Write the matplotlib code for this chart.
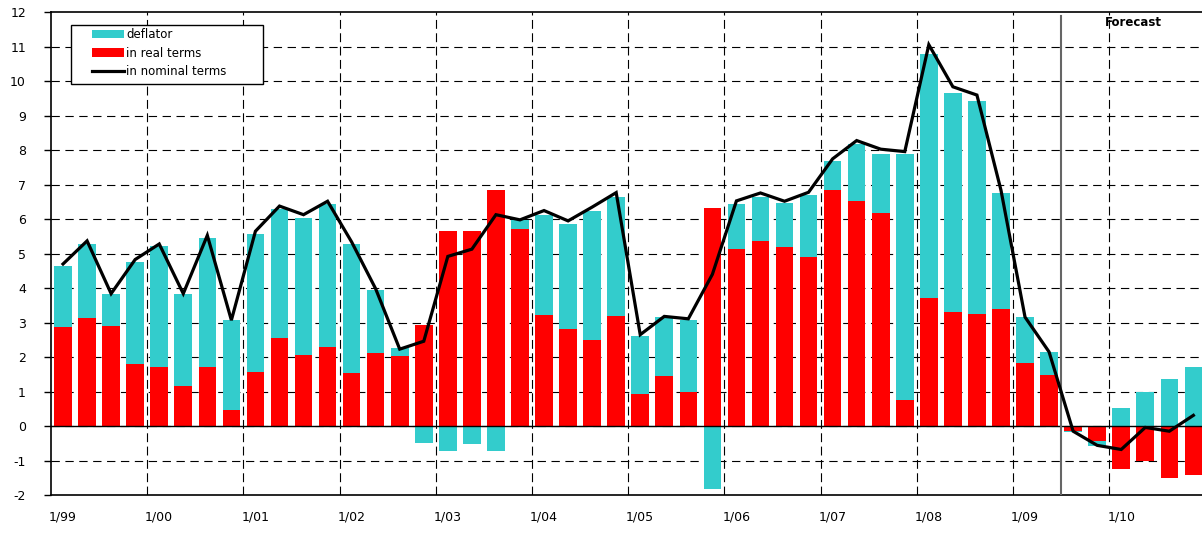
import numpy as np
import matplotlib.pyplot as plt
from matplotlib.patches import Rectangle

# quarterly data, 1999Q1 .. 2010Q4
real = [2.87, 3.12, 2.90, 1.80, 1.71, 1.15, 1.71, 0.47, 1.58, 2.56, 2.05, 2.30,
        1.55, 2.11, 2.02, 2.92, 5.66, 5.66, 6.84, 5.71, 3.23, 2.81, 2.50, 3.18,
        0.93, 1.46, 0.99, 6.32, 5.13, 5.36, 5.20, 4.89, 6.84, 6.53, 6.19, 0.75,
        3.71, 3.32, 3.26, 3.39, 1.83, 1.49, -0.13, -0.44, -1.24, -1.02, -1.51, -1.43]
deflator = [1.77, 2.17, 0.93, 2.96, 3.52, 2.68, 3.74, 2.60, 3.99, 3.73, 3.99, 4.14,
            3.74, 1.83, 0.23, -0.49, -0.71, -0.52, -0.71, 0.27, 2.90, 3.04, 3.75, 3.45,
            1.68, 1.69, 2.10, -1.82, 1.31, 1.28, 1.28, 1.80, 0.84, 1.64, 1.71, 7.15,
            7.09, 6.33, 6.16, 3.36, 1.32, 0.65, -0.04, -0.14, 0.53, 0.99, 1.35, 1.71]
nominal = [4.70, 5.37, 3.84, 4.83, 5.28, 3.84, 5.53, 3.07, 5.65, 6.38, 6.13, 6.52,
           5.34, 3.98, 2.23, 2.46, 4.92, 5.13, 6.13, 5.98, 6.25, 5.95, 6.35, 6.77,
           2.65, 3.18, 3.11, 4.40, 6.53, 6.76, 6.52, 6.78, 7.75, 8.28, 8.03, 7.96,
           11.06, 9.84, 9.60, 6.84, 3.16, 2.15, -0.15, -0.56, -0.68, -0.04, -0.15, 0.31]
year_labels = ['1/99', '1/00', '1/01', '1/02', '1/03', '1/04',
               '1/05', '1/06', '1/07', '1/08', '1/09', '1/10']
forecast_start = 42  # first forecast quarter (2009Q3)

plt.rcParams['font.family'] = ['DejaVu Sans']
plt.rcParams['axes.unicode_minus'] = False

real = np.array(real)
deflator = np.array(deflator)
x = np.arange(len(real))
# stack positives up, negatives down (like Excel)
defl_bottom = np.where(np.sign(deflator) == np.sign(real), real, 0)

fig = plt.figure(figsize=(12.02, 5.39), dpi=100)
ax = fig.add_axes([51 / 1202, 1 - 495 / 539, 1151 / 1202, (495 - 12.3) / 539])

# grid
for yv in range(-1, 12):
    ax.axhline(yv, color='black', lw=0.8, ls=(0, (7.5, 5)), zorder=0)
for k in range(1, len(year_labels)):
    ax.axvline(4 * k - 0.5, color='black', lw=0.8, ls=(0, (8, 4)), zorder=0)

cyan = '#33CCCC'
red = '#FF0000'
ax.bar(x, deflator, bottom=defl_bottom, width=0.73, color=cyan, zorder=2,
       label='deflator')
ax.bar(x, real, width=0.73, color=red, zorder=2, label='in real terms')
ax.plot(x, nominal, color='black', lw=2.3, zorder=4, label='in nominal terms',
        solid_joinstyle='miter')
ax.axhline(0, color='black', lw=1, zorder=3)

ax.axvline(forecast_start - 0.5, ymax=0.993, color='#666666', lw=1.5, zorder=3)
ax.text(44.5, 11.69, 'Forecast', fontsize=8.5, fontweight='bold',
        ha='center', va='center')

ax.set_xlim(-0.5, -0.5 + 1151 / 24.05)
ax.set_ylim(-2, 12)
ax.set_yticks(range(-2, 13))
ax.set_xticks(np.arange(len(year_labels)) * 4)
ax.set_xticklabels(year_labels)
ax.tick_params(axis='y', length=5, width=1, pad=13, labelsize=9)
ax.tick_params(axis='x', length=0, pad=11, labelsize=9)
ax.spines['right'].set_visible(False)
for s in ['left', 'top', 'bottom']:
    ax.spines[s].set_linewidth(1.2)

# legend with a custom white frame
ax.add_patch(Rectangle((0.0175, 0.851), 0.1665, 0.123, transform=ax.transAxes,
                       facecolor='white', edgecolor='black', lw=1, zorder=5))
h, l = ax.get_legend_handles_labels()
order = [l.index('deflator'), l.index('in real terms'), l.index('in nominal terms')]
leg = ax.legend([h[i] for i in order], [l[i] for i in order], loc='upper left',
                bbox_to_anchor=(0.0305, 0.979), frameon=False, fontsize=8.5,
                handlelength=2.7, handleheight=0.7, handletextpad=0.2,
                labelspacing=0.45, borderpad=0.0)
leg.set_zorder(6)

fig.savefig('out.png', dpi=100)
